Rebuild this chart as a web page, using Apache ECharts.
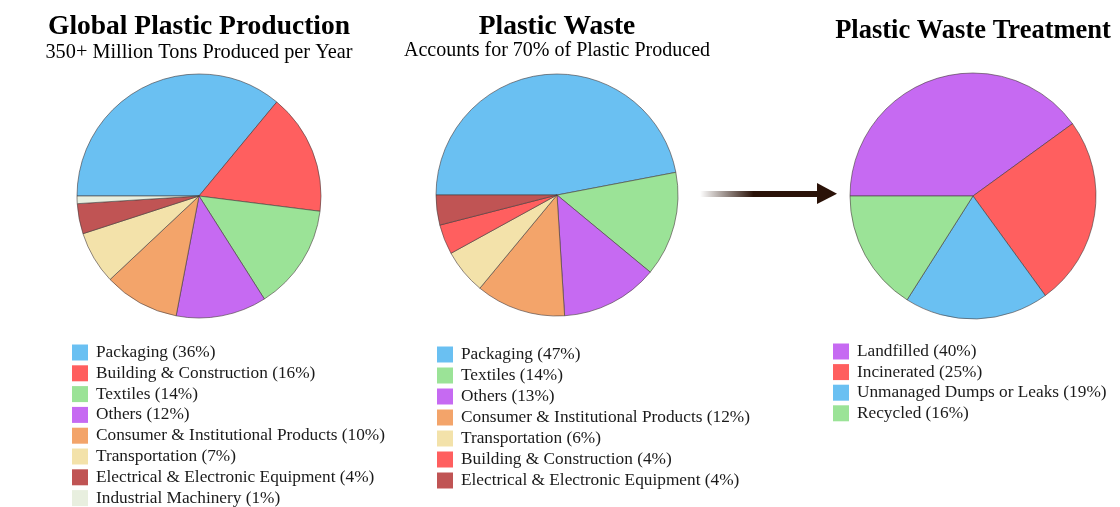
<!DOCTYPE html>
<html>
<head>
<meta charset="utf-8">
<title>Plastic Production, Waste and Treatment</title>
<script src="https://cdn.jsdelivr.net/npm/echarts@6/dist/echarts.min.js"></script>
<style>
  html, body { margin: 0; padding: 0; background: #ffffff; }
  #chart { width: 1120px; height: 507px; }
</style>
</head>
<body>
<div id="chart"></div>
<script>
// Global plastic production by sector (% of total)
const productionSectors = ['Packaging', 'Building & Construction', 'Textiles', 'Others',
  'Consumer & Institutional Products', 'Transportation', 'Electrical & Electronic Equipment',
  'Industrial Machinery'];
const productionShares = [36, 16, 14, 12, 10, 7, 4, 1];

// Plastic waste by sector (% of waste)
const wasteSectors = ['Packaging', 'Textiles', 'Others', 'Consumer & Institutional Products',
  'Transportation', 'Building & Construction', 'Electrical & Electronic Equipment'];
const wasteShares = [47, 14, 13, 12, 6, 4, 4];

// What happens to plastic waste (% of waste)
const treatmentTypes = ['Landfilled', 'Incinerated', 'Unmanaged Dumps or Leaks', 'Recycled'];
const treatmentShares = [40, 25, 19, 16];

const titleTexts = ['Global Plastic Production', 'Plastic Waste', 'Plastic Waste Treatment'];
const subtitleTexts = ['350+ Million Tons Produced per Year', 'Accounts for 70% of Plastic Produced'];

// One colour per category, shared by all three pies
const palette = {
  'Packaging': '#6ac0f2',
  'Building & Construction': '#ff5f5f',
  'Textiles': '#9be397',
  'Others': '#c66af2',
  'Consumer & Institutional Products': '#f3a46a',
  'Transportation': '#f3e2aa',
  'Electrical & Electronic Equipment': '#c05454',
  'Industrial Machinery': '#e8efdf',
  'Landfilled': '#c66af2',
  'Incinerated': '#ff5f5f',
  'Unmanaged Dumps or Leaks': '#6ac0f2',
  'Recycled': '#9be397'
};

const serif = '"Liberation Serif", "Times New Roman", serif';

function pieData(names, values) {
  return names.map((n, i) => ({
    name: n + ' (' + values[i] + '%)',
    value: values[i],
    itemStyle: { color: palette[n] }
  }));
}

function pieSeries(names, values, center, radius) {
  return {
    type: 'pie',
    center: center,
    radius: radius,
    startAngle: 180,
    clockwise: true,
    label: { show: false },
    labelLine: { show: false },
    emphasis: { disabled: true },
    itemStyle: { borderColor: 'rgba(70,60,60,0.6)', borderWidth: 1 },
    data: pieData(names, values)
  };
}

function legendBlock(names, values, left, top, gap) {
  return {
    orient: 'vertical',
    left: left,
    top: top,
    height: 220,
    itemWidth: 16,
    itemHeight: 16,
    itemGap: gap,
    icon: 'rect',
    selectedMode: false,
    padding: 0,
    itemStyle: { borderWidth: 0 },
    textStyle: { fontFamily: serif, fontSize: 17.3, color: '#1a1a1a', padding: [0, 0, 0, 3], lineHeight: 16 },
    data: names.map((n, i) => n + ' (' + values[i] + '%)')
  };
}

function titleBlock(text, x, top, size, bold) {
  return {
    text: text,
    left: x,
    top: top,
    textAlign: 'center',
    padding: 0,
    textStyle: { fontFamily: serif, fontSize: size, fontWeight: bold ? 'bold' : 'normal', color: '#000' }
  };
}

const chart = echarts.init(document.getElementById('chart'), null, { renderer: 'canvas' });

chart.setOption({
  backgroundColor: '#ffffff',
  animation: false,
  title: [
    titleBlock(titleTexts[0], 199, 13, 27.5, true),
    titleBlock(subtitleTexts[0], 199, 43, 20.3, false),
    titleBlock(titleTexts[1], 557, 13, 27.5, true),
    titleBlock(subtitleTexts[1], 557, 41, 20, false),
    titleBlock(titleTexts[2], 973, 18, 26.5, true)
  ],
  legend: [
    legendBlock(productionSectors, productionShares, 72, 344, 3.8),
    legendBlock(wasteSectors, wasteShares, 437, 346, 4.0),
    legendBlock(treatmentTypes, treatmentShares, 833, 343, 3.6)
  ],
  series: [
    pieSeries(productionSectors, productionShares, [199, 196], 122),
    pieSeries(wasteSectors, wasteShares, [557, 195], 121),
    pieSeries(treatmentTypes, treatmentShares, [973, 196], 123)
  ],
  graphic: [
    {
      // arrow shaft fading in from the left
      type: 'rect',
      shape: { x: 700, y: 191, width: 119, height: 6 },
      style: {
        fill: new echarts.graphic.LinearGradient(0, 0, 1, 0, [
          { offset: 0, color: 'rgba(42,18,8,0)' },
          { offset: 0.45, color: 'rgba(42,18,8,1)' },
          { offset: 1, color: 'rgba(42,18,8,1)' }
        ])
      },
      silent: true
    },
    {
      // arrow head
      type: 'polygon',
      shape: { points: [[817, 183], [837, 193.8], [817, 204]] },
      style: { fill: '#2a1208' },
      silent: true
    }
  ]
});
</script>
</body>
</html>
